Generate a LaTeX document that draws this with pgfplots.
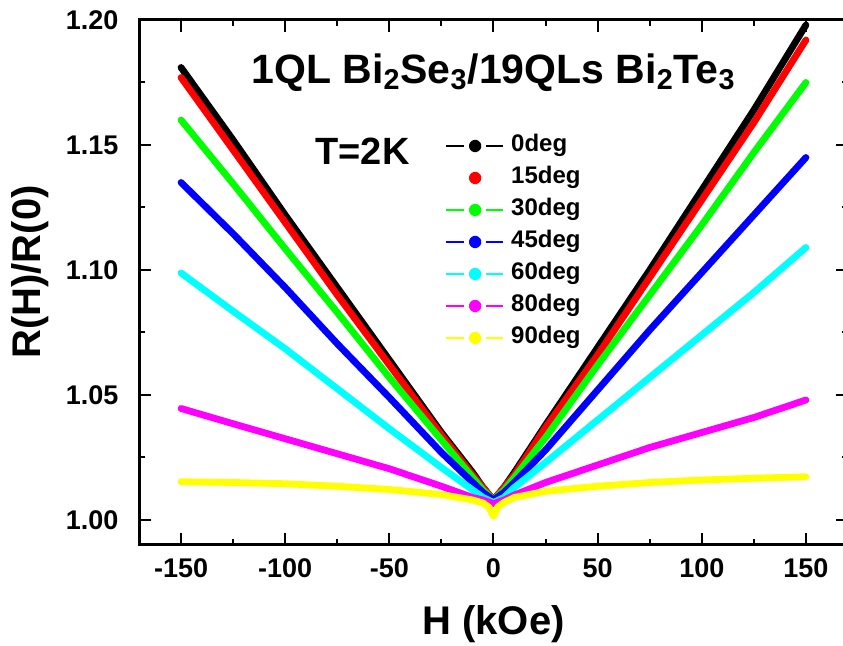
\documentclass[border=0pt]{standalone}
\usepackage{fontspec}
\setmainfont{Liberation Sans}
\usepackage{pgfplots}
\pgfplotsset{compat=1.18}
\usetikzlibrary{calc}

\definecolor{cBlack}{RGB}{0,0,0}
\definecolor{cRed}{RGB}{255,0,0}
\definecolor{cGreen}{RGB}{0,255,0}
\definecolor{cBlue}{RGB}{0,0,255}
\definecolor{cCyan}{RGB}{0,255,255}
\definecolor{cMagenta}{RGB}{255,0,255}
\definecolor{cYellow}{RGB}{255,255,0}

% legend sample: short line, dot, short line
\pgfplotsset{
  degleg/.style={legend image code/.code={
      \draw[##1,line width=0.8pt,line cap=butt] (0pt,0pt)--(9pt,0pt);
      \draw[##1,line width=0.8pt,line cap=butt] (20pt,0pt)--(28.5pt,0pt);
      \fill[##1] (14.5pt,0pt) circle (1.45pt);
      \path[draw=none] (0pt,0pt) (32.5pt,0pt);}},
  dotleg/.style={legend image code/.code={
      \fill[##1] (14.5pt,0pt) circle (1.45pt);
      \path[draw=none] (0pt,0pt) (32.5pt,0pt);}},
  curve/.style={line width=3.4pt, line cap=round, line join=round},
}

\begin{document}
\begin{tikzpicture}
\begin{axis}[
    scale only axis,
    width=354.1pt, height=262.5pt,
    xmin=-170, xmax=170,
    ymin=0.99, ymax=1.20,
    xtick={-150,-100,...,150},
    ytick={1.00,1.05,1.10,1.15,1.20},
    minor x tick num=1,
    minor y tick num=1,
    tick align=inside,
    major tick length=6pt,
    minor tick length=3pt,
    axis line style={line width=1.5pt},
    every tick/.style={line width=1pt, black},
    /pgf/number format/assume math mode=true,
    yticklabel={\pgfmathprintnumber[fixed,fixed zerofill,precision=2]{\tick}\hspace*{7pt}},
    xticklabel={\rule{0pt}{12.5pt}\pgfmathprintnumber{\tick}},
    tick label style={font=\fontsize{13.5}{14}\selectfont\bfseries},
    xlabel={H (kOe)},
    ylabel={R(H)/R(0)},
    xlabel style={at={($(rel axis cs:0.5,0)+(0,-45pt)$)}, anchor=base},
    ylabel style={at={($(rel axis cs:0,0.52)+(-54.7pt,0)$)}, anchor=center},
    label style={font=\fontsize{20}{20}\selectfont\bfseries},
    legend cell align=left,
    legend style={draw=none, fill=none, inner sep=0pt,
        at={(axis cs:-23.3,1.1112)}, anchor=west,
        row sep=4.8pt,
        nodes={inner sep=0pt, text height=8.6pt, text depth=2.6pt,
               font=\fontsize{12}{12}\selectfont\bfseries}},
]
\coordinate (bl) at (rel axis cs:0,0);

\addplot[curve, cBlack, degleg] coordinates {
(-150,1.181) (-125,1.152) (-100,1.122) (-75,1.093) (-50,1.064) (-25,1.035)
(-10,1.019) (-5,1.013) (0,1.008) (5,1.013) (10,1.019) (25,1.038)
(50,1.069) (75,1.100) (100,1.132) (125,1.164) (150,1.198)};
\addlegendentry{0deg}

\addplot[curve, cRed, dotleg] coordinates {
(-150,1.177) (-125,1.148) (-100,1.119) (-75,1.090) (-50,1.062) (-25,1.034)
(-10,1.018) (-5,1.013) (0,1.008) (5,1.013) (10,1.018) (25,1.037)
(50,1.066) (75,1.097) (100,1.128) (125,1.159) (150,1.192)};
\addlegendentry{15deg}

\addplot[curve, cGreen, degleg] coordinates {
(-150,1.160) (-125,1.1345) (-100,1.1085) (-75,1.083) (-50,1.057) (-25,1.032)
(-10,1.017) (-5,1.012) (0,1.008) (5,1.012) (10,1.017) (25,1.033)
(50,1.062) (75,1.090) (100,1.118) (125,1.147) (150,1.175)};
\addlegendentry{30deg}

\addplot[curve, cBlue, degleg] coordinates {
(-150,1.135) (-125,1.1145) (-100,1.093) (-75,1.0705) (-50,1.049) (-25,1.027)
(-10,1.015) (-5,1.011) (0,1.008) (5,1.011) (10,1.015) (25,1.028)
(50,1.052) (75,1.076) (100,1.099) (125,1.122) (150,1.145)};
\addlegendentry{45deg}

\addplot[curve, cCyan, degleg] coordinates {
(-150,1.0988) (-125,1.0835) (-100,1.0685) (-75,1.0525) (-50,1.0365) (-25,1.021)
(-10,1.012) (-5,1.009) (0,1.007) (5,1.009) (10,1.013) (25,1.023)
(50,1.040) (75,1.057) (100,1.074) (125,1.091) (150,1.109)};
\addlegendentry{60deg}

\addplot[curve, cMagenta, degleg] coordinates {
(-150,1.0446) (-125,1.0385) (-100,1.0325) (-75,1.0265) (-50,1.0205) (-25,1.0135)
(-10,1.009) (-5,1.008) (0,1.0065) (5,1.008) (10,1.010) (25,1.015)
(50,1.022) (75,1.029) (100,1.035) (125,1.041) (150,1.048)};
\addlegendentry{80deg}

\addplot[curve, cYellow, degleg] coordinates {
(-150,1.0153) (-125,1.0150) (-100,1.0145) (-75,1.0135) (-50,1.0122) (-25,1.0102)
(-10,1.0080) (-5,1.0068) (-2,1.0050) (-1,1.0030) (0,1.0015) (1,1.0030) (2,1.0052)
(5,1.0070) (10,1.0090) (25,1.0115) (50,1.0135) (75,1.0150) (100,1.0160)
(125,1.0167) (150,1.0173)};
\addlegendentry{90deg}

\node[anchor=base, font=\fontsize{20.5}{21}\selectfont\bfseries]
  at (axis cs:0,1.1747) {1QL Bi\textsubscript{2}Se\textsubscript{3}/19QLs Bi\textsubscript{2}Te\textsubscript{3}};
\node[anchor=base, font=\fontsize{19}{20}\selectfont\bfseries]
  at (axis cs:-62.9,1.142) {T=2K};
\end{axis}
\pgfresetboundingbox
\path ($(bl)+(-69.7pt,-50.5pt)$) rectangle ($(bl)+(351.8pt,272.5pt)$);
\end{tikzpicture}
\end{document}
